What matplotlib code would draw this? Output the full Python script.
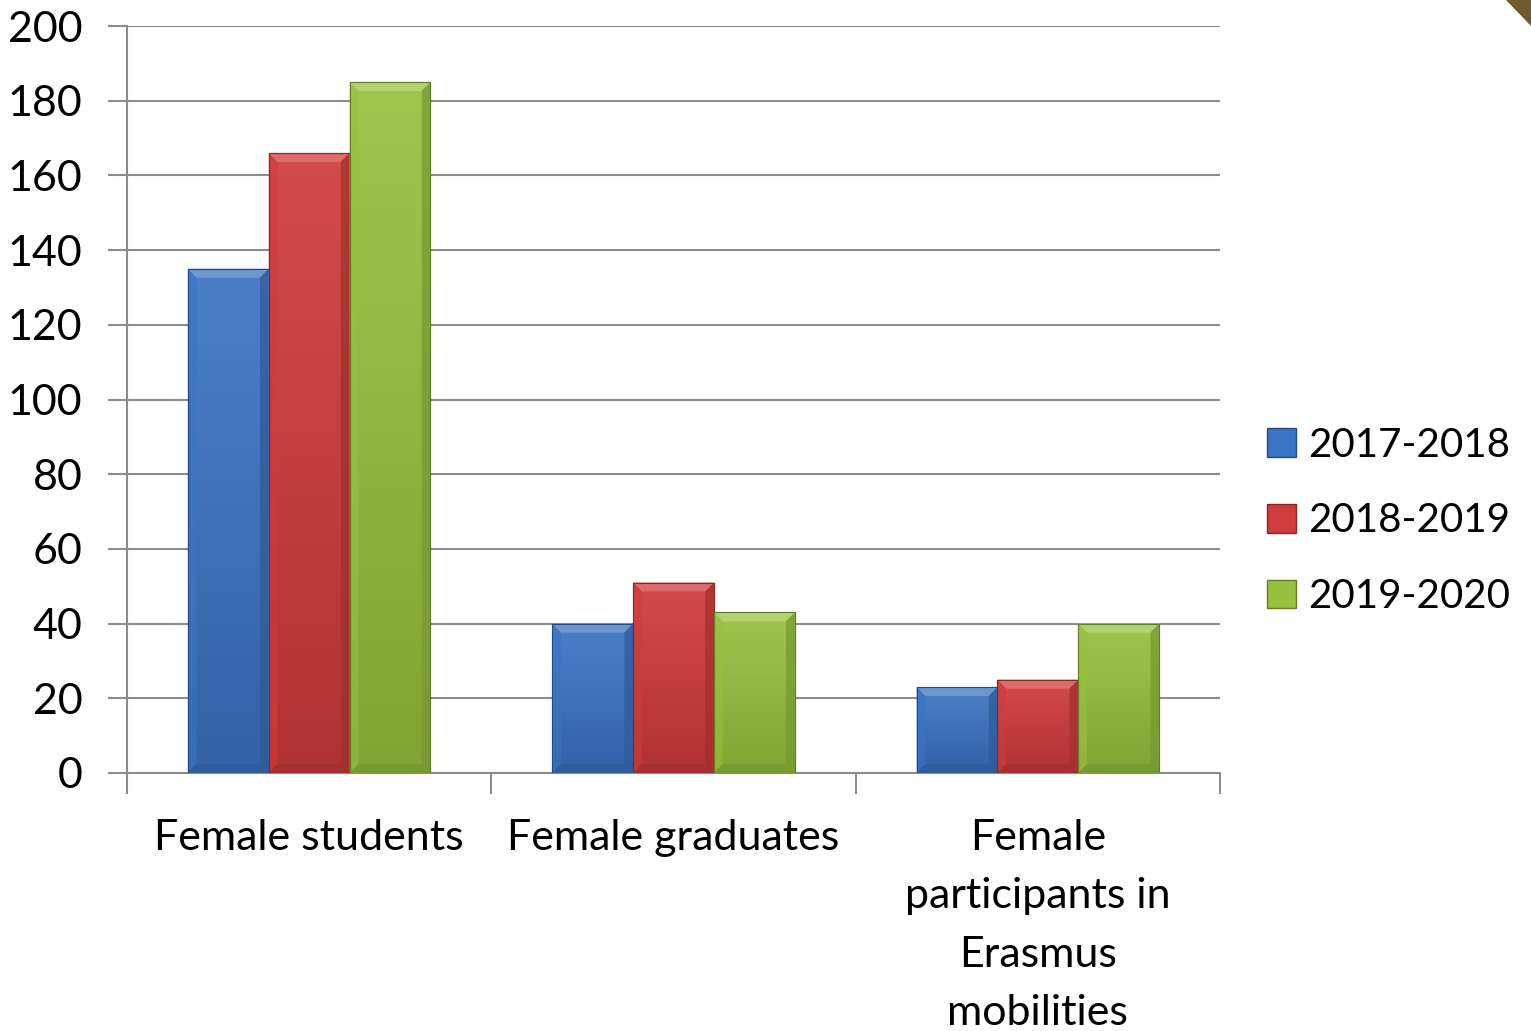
import matplotlib
matplotlib.use("Agg")
import matplotlib.pyplot as plt
import numpy as np
from matplotlib.patches import Patch, Polygon
from matplotlib.colors import to_rgb

categories = ["Female students", "Female graduates", "Female\nparticipants in\nErasmus\nmobilities"]
series = ["2017-2018", "2018-2019", "2019-2020"]
values = {
    "2017-2018": [135, 40, 23],
    "2018-2019": [166, 51, 25],
    "2019-2020": [185, 43, 40],
}
yticks = [0, 20, 40, 60, 80, 100, 120, 140, 160, 180, 200]

colors = {"2017-2018": "#3B74C4", "2018-2019": "#D03B3B", "2019-2020": "#98C13F"}

plt.rcParams["font.family"] = ["Lato", "DejaVu Sans"]
FS = 31

W, H = 1531, 1031
fig = plt.figure(figsize=(W / 100, H / 100), dpi=100)
ax = fig.add_axes([127 / W, 1 - 773 / H, (1220 - 127) / W, (773 - 26) / H])

grid_c = "#8C8C8C"
x = np.arange(len(categories))
bw = 0.222
offsets = [-bw, 0, bw]

def shade(c, f):
    r = np.array(to_rgb(c))
    if f >= 0:
        return tuple(r + (1 - r) * f)
    return tuple(r * (1 + f))

handles = []
for i, s in enumerate(series):
    bars = ax.bar(x + offsets[i], values[s], width=bw, color=colors[s],
                  edgecolor=shade(colors[s], -0.35), linewidth=0.8, zorder=3)
    for b in bars:
        x0, y0 = b.get_x(), b.get_y()
        w, h = b.get_width(), b.get_height()
        top = np.array(shade(colors[s], 0.08))
        bot = np.array(shade(colors[s], -0.15))
        t = np.linspace(0, 1, 64)[:, None]
        grad = top * (1 - t) + bot * t
        img = np.repeat(grad[:, None, :], 2, axis=1)
        im = ax.imshow(img, extent=[x0, x0 + w, y0, y0 + h], aspect="auto",
                       zorder=3.1, interpolation="bilinear")
        im.set_clip_path(b)
        dx = 0.024
        dy = 2.4
        dyb = min(dy, h / 2)
        ax.add_patch(Polygon([[x0, y0 + h], [x0 + w, y0 + h], [x0 + w - dx, y0 + h - dyb], [x0 + dx, y0 + h - dyb]],
                             closed=True, facecolor=shade(colors[s], 0.25), edgecolor="none", zorder=3.2))
        ax.add_patch(Polygon([[x0, y0], [x0 + dx, y0 + dyb], [x0 + dx, y0 + h - dyb], [x0, y0 + h]],
                             closed=True, facecolor=shade(colors[s], 0.0), edgecolor="none", alpha=0.6, zorder=3.2))
        ax.add_patch(Polygon([[x0 + w, y0], [x0 + w - dx, y0 + dyb], [x0 + w - dx, y0 + h - dyb], [x0 + w, y0 + h]],
                             closed=True, facecolor=shade(colors[s], -0.22), edgecolor="none", alpha=0.7, zorder=3.2))
        ax.add_patch(Polygon([[x0, y0], [x0 + w, y0], [x0 + w - dx, y0 + dyb], [x0 + dx, y0 + dyb]],
                             closed=True, facecolor=shade(colors[s], -0.22), edgecolor="none", alpha=0.7, zorder=3.2))
        ax.add_patch(plt.Rectangle((x0, y0), w, h, fill=False, edgecolor=shade(colors[s], -0.35),
                                   linewidth=0.8, zorder=3.3))
    handles.append(Patch(facecolor=colors[s], edgecolor=shade(colors[s], -0.35), label=s))

ax.set_xlim(-0.5, len(categories) - 0.5)
ax.set_ylim(0, 200)
ax.set_yticks(yticks)
ax.set_yticklabels([str(v) for v in yticks], fontsize=FS)
ax.yaxis.grid(True, color=grid_c, linewidth=1.5, zorder=0)
ax.set_axisbelow(True)

ax.set_xticks(x)
ax.set_xticklabels(categories, fontsize=FS, linespacing=1.66, va="top")
ax.tick_params(axis="x", length=0, pad=33)
ax.set_xticks(np.arange(-0.5, len(categories)), minor=True)
ax.tick_params(axis="x", which="minor", length=15, width=1.5, color=grid_c, direction="out")
ax.tick_params(axis="y", length=14, width=1.5, color=grid_c, direction="out", pad=18)

for sp in ["top", "right"]:
    ax.spines[sp].set_visible(False)
ax.spines["left"].set_color(grid_c)
ax.spines["left"].set_linewidth(1.5)
ax.spines["bottom"].set_color(grid_c)
ax.spines["bottom"].set_linewidth(1.5)

fig.legend(handles=handles, loc="center left", bbox_to_anchor=(1251 / W, 1 - 521 / H),
           frameon=False, fontsize=29, handlelength=0.72, handleheight=0.72,
           handletextpad=0.3, labelspacing=0.96, borderaxespad=0)

fig.patches.append(Polygon([[1506 / W, 1.0], [1.0, 1.0], [1.0, 1 - 26 / H]], closed=True,
                           transform=fig.transFigure, facecolor="#6E5A2E", edgecolor="none"))

fig.savefig("out.png", dpi=100)
